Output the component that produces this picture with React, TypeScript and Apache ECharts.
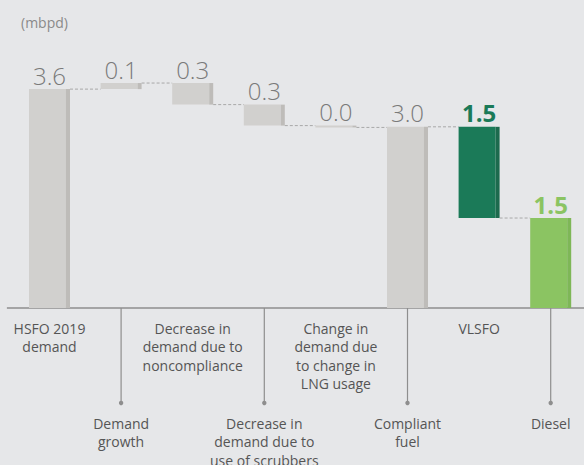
import React, { useEffect, useRef } from "react";
import * as echarts from "echarts";

const categories = [
  "HSFO 2019\ndemand",
  "Demand\ngrowth",
  "Decrease in\ndemand due to\nnoncompliance",
  "Decrease in\ndemand due to\nuse of scrubbers",
  "Change in\ndemand due\nto change in\nLNG usage",
  "Compliant\nfuel",
  "VLSFO",
  "Diesel",
];
const barStarts = [0, 3.6, 3.7, 3.345, 3.0, 0, 2.98, 0];
const barEnds = [3.6, 3.7, 3.345, 3.0, 2.97, 2.98, 1.48, 1.48];
const valueLabels = ["3.6", "0.1", "0.3", "0.3", "0.0", "3.0", "1.5", "1.5"];
const unitLabel = "(mbpd)";

const FONT = "'Open Sans', 'Noto Sans', sans-serif";
const GRAY = { main: "#d1d0ce", shade: "#bebcb9", text: "#7a7a7a", weight: 300 };
const DARK = { main: "#1b7a58", shade: "#1d6a4e", text: "#1b7a58", weight: 700 };
const LIGHT = { main: "#8bc462", shade: "#7eb757", text: "#8bc462", weight: 700 };
const styleFor = (i: number) => (i === 6 ? DARK : i === 7 ? LIGHT : GRAY);

export default function App() {
  const ref = useRef<HTMLDivElement>(null);
  useEffect(() => {
    if (!ref.current) return;
    const chart = echarts.init(ref.current, undefined, { renderer: "svg" });
    const data = categories.map((_, i) => [i, barStarts[i], barEnds[i]]);
    const n = categories.length;
    chart.setOption({
      animation: false,
      backgroundColor: "#e6e7e9",
      title: {
        text: unitLabel,
        left: 16,
        top: 10,
        textStyle: { fontFamily: FONT, fontSize: 14, fontWeight: 400, color: "#8a8a8a" },
      },
      grid: {
        left: 13.7,
        width: 572.8,
        top: 64.8,
        height: 243.2,
        containLabel: false,
        outerBoundsMode: "none",
      },
      xAxis: [
        {
          type: "category",
          data: categories,
          axisLine: { show: false },
          axisTick: { show: false },
          axisLabel: {
            interval: (idx: number) => idx % 2 === 0,
            margin: 11,
            fontFamily: FONT,
            fontSize: 14,
            lineHeight: 18.5,
            color: "#555",
            verticalAlign: "top",
          },
        },
        {
          type: "category",
          data: categories,
          position: "bottom",
          axisLine: { show: false },
          axisTick: { show: false },
          axisLabel: {
            interval: (idx: number) => idx % 2 === 1,
            margin: 106,
            fontFamily: FONT,
            fontSize: 14,
            lineHeight: 18.5,
            color: "#555",
            verticalAlign: "top",
          },
        },
      ],
      yAxis: { type: "value", min: 0, max: 4, show: false },
      series: [
        {
          type: "custom",
          clip: false,
          data,
          renderItem: (params: any, api: any) => {
            const i = api.value(0);
            const s = api.value(1);
            const e = api.value(2);
            const band = api.size([1, 0])[0];
            const w = band * 0.5726;
            const shade = band * 0.056;
            const [cx, yS] = api.coord([i, s]);
            const [, yE] = api.coord([i, e]);
            const [, y0] = api.coord([i, 0]);
            const top = Math.min(yS, yE);
            const h = Math.max(Math.abs(yS - yE), 1.5);
            const st = styleFor(i);
            const children: any[] = [];
            if (i === 0) {
              const cs = params.coordSys;
              children.push({
                type: "line",
                shape: { x1: cx - band * 0.595, y1: y0, x2: cs.x + cs.width, y2: y0 },
                style: { stroke: "#8e8e8e", lineWidth: 1.3 },
              });
            }
            children.push({
              type: "rect",
              shape: { x: cx - w / 2, y: top, width: w - shade, height: h },
              style: { fill: st.main },
            });
            children.push({
              type: "rect",
              shape: { x: cx + w / 2 - shade, y: top, width: shade, height: h },
              style: { fill: st.shade },
            });
            children.push({
              type: "text",
              x: cx,
              y: top - 2,
              style: {
                text: valueLabels[i],
                fill: st.text,
                fontFamily: FONT,
                fontSize: 24,
                fontWeight: st.weight,
                align: "center",
                verticalAlign: "bottom",
              },
            });
            if (i < n - 1) {
              const [nx] = api.coord([i + 1, e]);
              children.push({
                type: "line",
                shape: { x1: cx + w / 2, y1: yE, x2: nx - w / 2, y2: yE },
                style: { stroke: "#a8a8a8", lineWidth: 1, lineDash: [3, 2] },
              });
            }
            if (i % 2 === 1) {
              children.push({
                type: "line",
                shape: { x1: cx, y1: y0, x2: cx, y2: y0 + 95 },
                style: { stroke: "#8e8e8e", lineWidth: 1.2 },
              });
              children.push({
                type: "circle",
                shape: { cx, cy: y0 + 95, r: 2.2 },
                style: { fill: "#8e8e8e" },
              });
            }
            return { type: "group", children };
          },
        },
      ],
    });
    return () => chart.dispose();
  }, []);
  return (
    <div
      ref={ref}
      style={{ position: "absolute", left: 0, top: 0, width: 584, height: 465 }}
    />
  );
}
